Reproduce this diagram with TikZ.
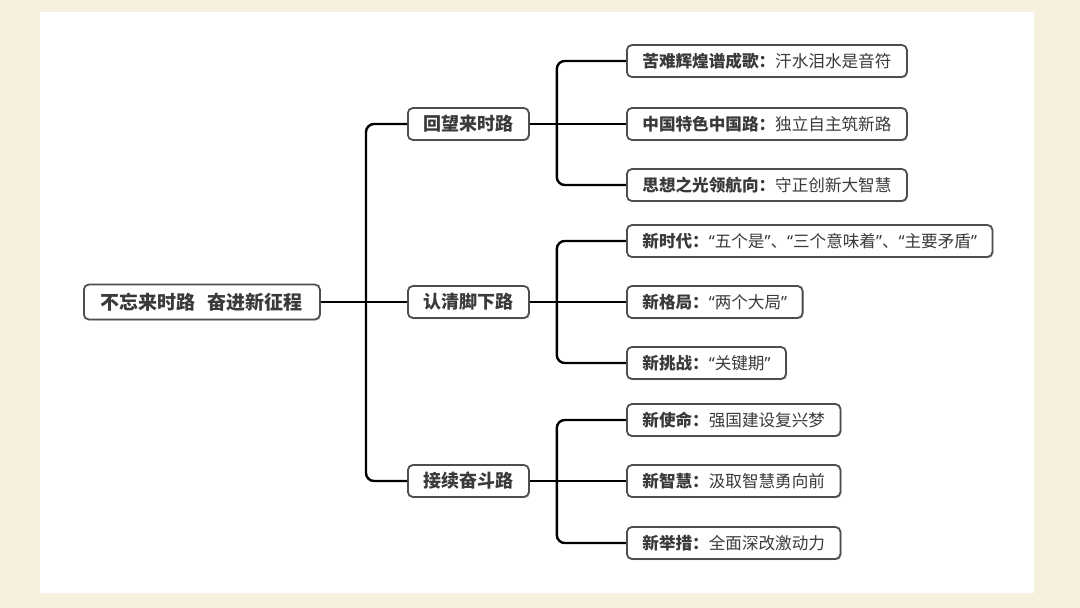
\documentclass[tikz,border=0pt]{standalone}
\usepackage{fontspec}
\setmainfont{Noto Sans CJK SC}
\newfontfamily\latinfont{Noto Sans}
\usepackage{xcolor}
\usetikzlibrary{shadows}
\definecolor{paper}{HTML}{F6F0DF}
\definecolor{boxline}{HTML}{4E4E4E}
\definecolor{ink}{HTML}{3A3A3A}
\newcommand{\qt}[1]{{\latinfont “}#1{\latinfont ”}}
\tikzset{box/.style={draw=boxline, line width=1.8pt, rounded corners=5pt, fill=white,
   text=ink, inner xsep=15.5pt, inner ysep=0pt, minimum height=32pt, anchor=west,
   drop shadow={shadow xshift=1pt, shadow yshift=-1.2pt, opacity=0.35}},
 rootbox/.style={box, font=\fontsize{19}{19}\selectfont\bfseries, inner xsep=17pt, minimum height=35pt},
 midbox/.style={box, font=\fontsize{18}{18}\selectfont\bfseries},
 leafbox/.style={box, font=\fontsize{16.6}{16.6}\selectfont},
 link/.style={draw=black, line width=2.4pt, rounded corners=8pt},
 }

\begin{document}
\begin{tikzpicture}[x=1pt,y=-1pt]
        \fill[paper] (0,0) rectangle (1080,608);
        \fill[white] (40,12) rectangle (1034,593);

        \node[rootbox] (root) at (83,302) {不忘来时路\hspace{12pt}奋进新征程};
        \foreach \name/\txt/\y in {m1/回望来时路/124, m2/认清脚下路/302, m3/接续奋斗路/481} {
            \node[midbox] (\name) at (407,\y) {\txt};
        }

        % first group
        \foreach \b/\r/\y[count=\i] in {苦难辉煌谱成歌/汗水泪水是音符/61, 中国特色中国路/独立自主筑新路/124, 思想之光领航向/守正创新大智慧/185} {
            \node[leafbox] (a\i) at (626,\y) {{\bfseries \b：}\r};
        }
        % second group
        \foreach \b/\r/\y[count=\i] in {新时代/\qt{五个是}、\qt{三个意味着}、\qt{主要矛盾}/241, 新格局/\qt{两个大局}/302, 新挑战/\qt{关键期}/363} {
            \node[leafbox] (b\i) at (626,\y) {{\bfseries \b：}\r};
        }
        % third group
        \foreach \b/\r/\y[count=\i] in {新使命/强国建设复兴梦/420, 新智慧/汲取智慧勇向前/481, 新举措/全面深改激动力/543} {
            \node[leafbox] (c\i) at (626,\y) {{\bfseries \b：}\r};
        }

        \coordinate (t0) at ([xshift=-41pt]m2.west);
        \draw[link] (root.east) -- (m2.west);
        \draw[link] (m1.west) -| (t0) |- (m3.west);

        \foreach \m/\g in {m1/a, m2/b, m3/c} {
            \coordinate (t\g) at ([xshift=27pt]\m.east);
            \draw[link] (\m.east) -- (\g2.west);
            \draw[link] (\g1.west) -| (t\g) |- (\g3.west);
        }
    \end{tikzpicture}
\end{document}
